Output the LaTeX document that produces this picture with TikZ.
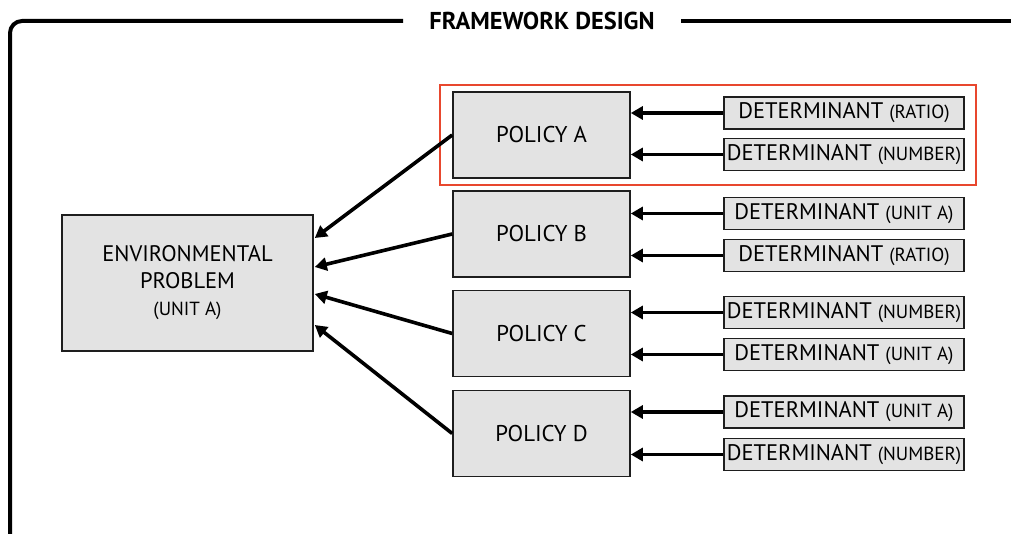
\documentclass[tikz,border=0pt]{standalone}
\usepackage{fontspec}
\setmainfont{PT Sans}
\usetikzlibrary{arrows.meta,calc}
\definecolor{boxfill}{HTML}{E3E3E3}
\definecolor{boxline}{HTML}{1E1E1E}
\definecolor{redframe}{HTML}{E8472E}
\tikzset{
  box/.style={draw=boxline, line width=1.6pt, fill=boxfill, align=center, inner sep=0pt},
  policybox/.style={box, minimum width=177pt, minimum height=86pt, font=\fontsize{22.8}{27}\selectfont},
  detbox/.style={box, minimum width=240pt, minimum height=32pt, font=\fontsize{22.5}{26}\selectfont},
  feed/.style={line width=3.6pt, -{Triangle[length=12pt,width=13pt]}},
}
\newcommand{\unitlab}[1]{{\fontsize{19}{22}\selectfont #1}}
\begin{document}
\begin{tikzpicture}[x=1pt,y=-1pt]
\useasboundingbox (0,0) rectangle (1011,534);
\clip (0,0) rectangle (1011,534);

% outer frame with title gap
\draw[line width=4pt, rounded corners=12pt] (403,21) -| (10,548);
\draw[line width=4pt] (681,21) -- (1020,21);
\node[font=\fontsize{24.4}{28}\selectfont\bfseries] (title) at (542,21) {FRAMEWORK DESIGN};

% highlighted policy group
\draw[redframe, line width=2.8pt] (440,85) rectangle (976,185);

% main target
\node[box, minimum width=251pt, minimum height=136pt,
      font=\fontsize{22.5}{27}\selectfont] (env) at (187.5,283)
  {ENVIRONMENTAL\\PROBLEM\\\unitlab{(UNIT A)}};

% policies
\node[policybox] (pa) at (541.5,135) {POLICY A};
\node[policybox] (pb) at (541.5,234) {POLICY B};
\node[policybox] (pc) at (541.5,333.5) {POLICY C};
\node[policybox] (pd) at (541.5,433.5) {POLICY D};

% determinants
\node[detbox] (a1) at (844,113)   {DETERMINANT \unitlab{(RATIO)}};
\node[detbox] (a2) at (844,154.5) {DETERMINANT \unitlab{(NUMBER)}};
\node[detbox] (b1) at (844,213.5) {DETERMINANT \unitlab{(UNIT A)}};
\node[detbox] (b2) at (844,255.5) {DETERMINANT \unitlab{(RATIO)}};
\node[detbox] (c1) at (844,312.5) {DETERMINANT \unitlab{(NUMBER)}};
\node[detbox] (c2) at (844,354.5) {DETERMINANT \unitlab{(UNIT A)}};
\node[detbox] (d1) at (844,412)   {DETERMINANT \unitlab{(UNIT A)}};
\node[detbox] (d2) at (844,454.5) {DETERMINANT \unitlab{(NUMBER)}};

% determinants feed their policy
\foreach \d/\p in {a1/pa,a2/pa,b1/pb,b2/pb,c1/pc,c2/pc,d1/pd,d2/pd}
  \draw[feed] (\d.west) -- (\d.west -| \p.east);

% policies feed the problem
\draw[feed] (pa.west) -- ($(env.east)+(1,-45)$);
\draw[feed] (pb.west) -- ($(env.east)+(1,-16)$);
\draw[feed] (pc.west) -- ($(env.east)+(1,11)$);
\draw[feed] (pd.west) -- ($(env.east)+(1,42)$);
\end{tikzpicture}
\end{document}
